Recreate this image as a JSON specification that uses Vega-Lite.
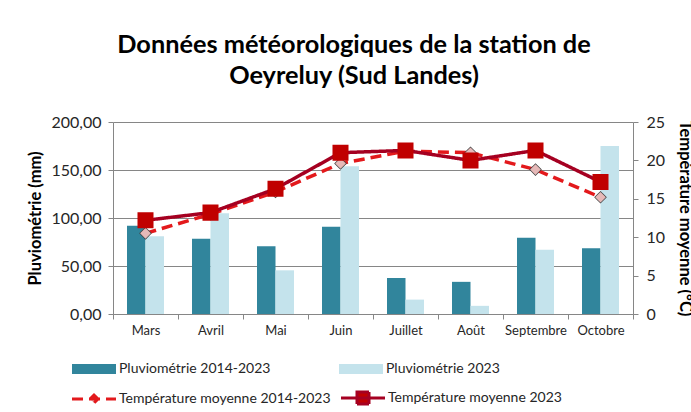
{
  "$schema": "https://vega.github.io/schema/vega-lite/v6.json",
  "width": 520,
  "height": 192,
  "autosize": "none",
  "padding": {"left": 113, "top": 122, "right": 58, "bottom": 98},
  "background": "white",
  "title": {
    "text": ["Données météorologiques de la station de", "Oeyreluy (Sud Landes)"],
    "font": "Lato",
    "fontSize": 25.3,
    "fontWeight": "bold",
    "color": "#000000",
    "anchor": "middle",
    "dx": -19,
    "offset": 25,
    "lineHeight": 31
  },
  "datasets": {
    "pluie": [
      {"mois": "Mars", "serie": "Pluviométrie 2014-2023", "mm": 92},
      {"mois": "Avril", "serie": "Pluviométrie 2014-2023", "mm": 78.5},
      {"mois": "Mai", "serie": "Pluviométrie 2014-2023", "mm": 70.5},
      {"mois": "Juin", "serie": "Pluviométrie 2014-2023", "mm": 91},
      {"mois": "Juillet", "serie": "Pluviométrie 2014-2023", "mm": 37.5},
      {"mois": "Août", "serie": "Pluviométrie 2014-2023", "mm": 33.5},
      {"mois": "Septembre", "serie": "Pluviométrie 2014-2023", "mm": 79.5},
      {"mois": "Octobre", "serie": "Pluviométrie 2014-2023", "mm": 68.5},
      {"mois": "Mars", "serie": "Pluviométrie 2023", "mm": 81},
      {"mois": "Avril", "serie": "Pluviométrie 2023", "mm": 105},
      {"mois": "Mai", "serie": "Pluviométrie 2023", "mm": 45.5},
      {"mois": "Juin", "serie": "Pluviométrie 2023", "mm": 154},
      {"mois": "Juillet", "serie": "Pluviométrie 2023", "mm": 15},
      {"mois": "Août", "serie": "Pluviométrie 2023", "mm": 8.5},
      {"mois": "Septembre", "serie": "Pluviométrie 2023", "mm": 67},
      {"mois": "Octobre", "serie": "Pluviométrie 2023", "mm": 175}
    ],
    "temp": [
      {"mois": "Mars", "serie": "Température moyenne 2014-2023", "t": 10.5},
      {"mois": "Avril", "serie": "Température moyenne 2014-2023", "t": 13.0},
      {"mois": "Mai", "serie": "Température moyenne 2014-2023", "t": 15.9},
      {"mois": "Juin", "serie": "Température moyenne 2014-2023", "t": 19.6},
      {"mois": "Juillet", "serie": "Température moyenne 2014-2023", "t": 21.2},
      {"mois": "Août", "serie": "Température moyenne 2014-2023", "t": 21.0},
      {"mois": "Septembre", "serie": "Température moyenne 2014-2023", "t": 18.8},
      {"mois": "Octobre", "serie": "Température moyenne 2014-2023", "t": 15.2},
      {"mois": "Mars", "serie": "Température moyenne 2023", "t": 12.2},
      {"mois": "Avril", "serie": "Température moyenne 2023", "t": 13.2},
      {"mois": "Mai", "serie": "Température moyenne 2023", "t": 16.3},
      {"mois": "Juin", "serie": "Température moyenne 2023", "t": 21.0},
      {"mois": "Juillet", "serie": "Température moyenne 2023", "t": 21.3},
      {"mois": "Août", "serie": "Température moyenne 2023", "t": 20.0},
      {"mois": "Septembre", "serie": "Température moyenne 2023", "t": 21.3},
      {"mois": "Octobre", "serie": "Température moyenne 2023", "t": 17.2}
    ]
  },
  "layer": [
    {
      "data": {"name": "pluie"},
      "mark": {"type": "bar"},
      "encoding": {
        "x": {
          "field": "mois",
          "type": "nominal",
          "sort": ["Mars", "Avril", "Mai", "Juin", "Juillet", "Août", "Septembre", "Octobre"],
          "scale": {"paddingInner": 0, "paddingOuter": 0},
          "axis": {
            "title": null,
            "labelAngle": 0,
            "tickBand": "extent",
            "tickSize": 5,
            "tickColor": "#868686",
            "domainColor": "#868686",
            "labelFont": "Lato",
            "labelFontSize": 13,
            "labelColor": "#262626",
            "labelPadding": 5
          }
        },
        "xOffset": {
          "field": "serie",
          "type": "nominal",
          "scale": {"paddingInner": 0, "paddingOuter": 0.757}
        },
        "y": {
          "field": "mm",
          "type": "quantitative",
          "scale": {"domain": [0, 200]},
          "axis": {
            "title": "Pluviométrie (mm)",
            "titleFont": "Lato",
            "titleFontSize": 16.5,
            "titleFontWeight": "bold",
            "titleColor": "#000000",
            "titlePadding": 7,
            "values": [0, 50, 100, 150, 200],
            "labelExpr": "replace(format(datum.value, '.2f'), '.', ',')",
            "labelFont": "Lato",
            "labelFontSize": 16,
            "labelColor": "#262626",
            "labelPadding": 7,
            "tickSize": 5,
            "tickColor": "#868686",
            "domainColor": "#868686",
            "grid": true,
            "gridColor": "#868686",
            "gridWidth": 1
          }
        },
        "color": {
          "field": "serie",
          "type": "nominal",
          "scale": {
            "domain": ["Pluviométrie 2014-2023", "Pluviométrie 2023"],
            "range": ["#31859C", "#C4E3EC"]
          },
          "legend": {
            "title": null,
            "orient": "none",
            "legendX": -41,
            "legendY": 240,
            "columns": 2,
            "columnPadding": 68,
            "labelFont": "Lato",
            "labelFontSize": 14,
            "labelColor": "#262626",
            "labelLimit": 300,
            "symbolType": "M-4.4,-1H4.4V1H-4.4Z",
            "symbolSize": 100,
            "symbolStrokeWidth": 0,
            "symbolOffset": 15,
            "labelOffset": 18
          }
        }
      }
    },
    {
      "data": {"name": "temp"},
      "encoding": {
        "x": {
          "field": "mois",
          "type": "nominal",
          "sort": ["Mars", "Avril", "Mai", "Juin", "Juillet", "Août", "Septembre", "Octobre"]
        },
        "y": {
          "field": "t",
          "type": "quantitative",
          "scale": {"domain": [0, 25]},
          "axis": {
            "orient": "right",
            "title": "Température moyenne (°C)",
            "titleFont": "Lato",
            "titleFontSize": 16.5,
            "titleFontWeight": "bold",
            "titleColor": "#000000",
            "titlePadding": 12,
            "values": [0, 5, 10, 15, 20, 25],
            "labelFont": "Lato",
            "labelFontSize": 16,
            "labelColor": "#262626",
            "labelPadding": 8,
            "tickSize": 5,
            "tickColor": "#868686",
            "domainColor": "#868686",
            "grid": false
          }
        }
      },
      "layer": [
        {
          "mark": {"type": "line", "strokeWidth": 3.5},
          "encoding": {
            "stroke": {
              "field": "serie",
              "type": "nominal",
              "scale": {
                "domain": ["Température moyenne 2014-2023", "Température moyenne 2023"],
                "range": ["#E3191C", "#A50021"]
              },
              "legend": {
                "title": null,
                "orient": "none",
                "legendX": -41,
                "legendY": 269,
                "columns": 2,
                "columnPadding": 4,
                "labelFont": "Lato",
                "labelFontSize": 14,
                "labelColor": "#262626",
                "labelLimit": 300,
                "symbolType": "M-4.4,0H4.4",
                "symbolSize": 100,
                "symbolStrokeWidth": 3,
                "symbolOffset": 15,
                "labelOffset": 18
              }
            },
            "strokeDash": {
              "field": "serie",
              "type": "nominal",
              "scale": {
                "domain": ["Température moyenne 2014-2023", "Température moyenne 2023"],
                "range": [[11, 6], [1, 0]]
              },
              "legend": {
                "title": null,
                "orient": "none",
                "legendX": -41,
                "legendY": 269,
                "columns": 2,
                "columnPadding": 4,
                "labelFont": "Lato",
                "labelFontSize": 14,
                "labelColor": "#262626",
                "labelLimit": 300,
                "symbolSize": 100,
                "symbolStrokeWidth": 3,
                "symbolOffset": 15,
                "labelOffset": 18
              }
            }
          }
        },
        {
          "transform": [{"filter": "datum.serie == 'Température moyenne 2014-2023'"}],
          "mark": {"type": "point", "shape": "M0,-0.95L0.95,0L0,0.95L-0.95,0Z", "filled": true, "fill": "#404040", "size": 178, "opacity": 1},
          "encoding": {}
        },
        {
          "mark": {"type": "point", "filled": true, "size": 178, "opacity": 1},
          "encoding": {
            "shape": {
              "field": "serie",
              "type": "nominal",
              "scale": {
                "domain": ["Température moyenne 2014-2023", "Température moyenne 2023"],
                "range": ["M-4.4,0H4.4M0,-0.8L0.8,0L0,0.8L-0.8,0Z", "M-4.4,0H4.4M-1.2,-1.2H1.2V1.2H-1.2Z"]
              },
              "legend": {
                "title": null,
                "orient": "none",
                "legendX": -41,
                "legendY": 269,
                "columns": 2,
                "columnPadding": 4,
                "labelFont": "Lato",
                "labelFontSize": 14,
                "labelColor": "#262626",
                "labelLimit": 300,
                "symbolSize": 100,
                "symbolStrokeWidth": 3,
                "symbolOffset": 15,
                "labelOffset": 18
              }
            },
            "fill": {
              "field": "serie",
              "type": "nominal",
              "scale": {
                "domain": ["Température moyenne 2014-2023", "Température moyenne 2023"],
                "range": ["#E6B9B8", "#C00000"]
              },
              "legend": {
                "title": null,
                "orient": "none",
                "legendX": -41,
                "legendY": 269,
                "columns": 2,
                "columnPadding": 4,
                "labelFont": "Lato",
                "labelFontSize": 14,
                "labelColor": "#262626",
                "labelLimit": 300,
                "symbolSize": 100,
                "symbolStrokeWidth": 3,
                "symbolOffset": 15,
                "labelOffset": 18
              }
            }
          }
        }
      ]
    }
  ],
  "resolve": {"scale": {"y": "independent"}},
  "config": {
    "view": {"stroke": null}
  }
}
